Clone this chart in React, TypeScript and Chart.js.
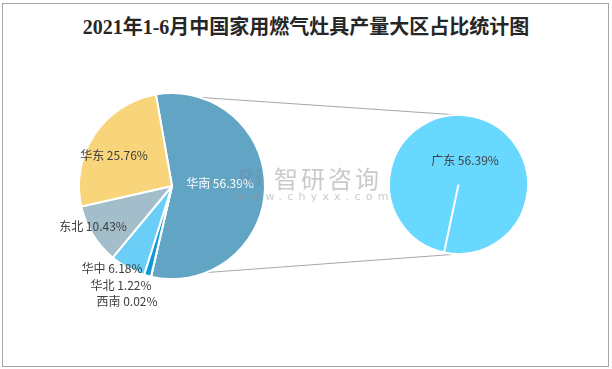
import React, { useEffect, useRef } from 'react';
import { Chart, registerables } from 'chart.js';

Chart.register(...registerables);

// ---- data ----
const titleText = '2021年1-6月中国家用燃气灶具产量大区占比统计图';
const regions = ['华南', '西南', '华北', '华中', '东北', '华东'];
const regionShares = [56.39, 0.02, 1.22, 6.18, 10.43, 25.76];
const regionColors = ['#62A4C3', '#2E75B6', '#0E9AD6', '#6BCEF6', '#A3BECA', '#F8D47B'];
const provinces = ['广东'];
const provinceShares = [56.39];
const provinceColors = ['#69D8FF'];

// label layout (offsets from pie centre, px)
const leftLabelOffsets = [
  [48, -3],
  [-45, 115],
  [-51, 99],
  [-60, 82],
  [-79, 40],
  [-58, -31],
];
const leftLabelColors = ['#ffffff', '#404040', '#404040', '#404040', '#404040', '#404040'];
const rightLabelOffsets = [[6.5, -24]];

const W = 612;
const H = 369;
const FONT = '"Noto Sans CJK SC", "Noto Sans", sans-serif';

function makeLabelPlugin(id: string, names: string[], values: number[], offsets: number[][], colors: string[]) {
  return {
    id,
    afterDatasetsDraw(chart: any) {
      const meta = chart.getDatasetMeta(0);
      const ctx = chart.ctx;
      ctx.save();
      ctx.font = '12px ' + FONT;
      ctx.textAlign = 'center';
      ctx.textBaseline = 'middle';
      meta.data.forEach((arc: any, i: number) => {
        const off = offsets[i];
        if (!off) return;
        ctx.fillStyle = colors[i];
        ctx.fillText(names[i] + ' ' + values[i].toFixed(2) + '%', arc.x + off[0], arc.y + off[1]);
      });
      ctx.restore();
    },
  };
}

export default function App() {
  const leftRef = useRef<HTMLCanvasElement>(null);
  const rightRef = useRef<HTMLCanvasElement>(null);

  useEffect(() => {
    const right = new Chart(rightRef.current!, {
      type: 'pie',
      data: {
        labels: provinces,
        datasets: [
          {
            data: provinceShares,
            backgroundColor: provinceColors,
            borderColor: '#ffffff',
            borderWidth: 2,
          },
        ],
      },
      options: {
        responsive: false,
        animation: false,
        rotation: 192,
        layout: { padding: { left: 388, right: 83, top: 114, bottom: 114 } },
        plugins: { legend: { display: false }, tooltip: { enabled: false }, title: { display: false } },
      },
      plugins: [makeLabelPlugin('rightLabels', provinces, provinceShares, rightLabelOffsets, ['#404040'])],
    });

    const connector = {
      id: 'connector',
      beforeDatasetsDraw(chart: any) {
        const arc: any = chart.getDatasetMeta(0).data[0];
        const rArc: any = right.getDatasetMeta(0).data[0];
        if (!arc || !rArc) return;
        const R = arc.outerRadius;
        const sx = arc.x + R * Math.cos(arc.startAngle);
        const sy = arc.y + R * Math.sin(arc.startAngle);
        const ex = arc.x + R * Math.cos(arc.endAngle);
        const ey = arc.y + R * Math.sin(arc.endAngle);
        const ctx = chart.ctx;
        ctx.save();
        ctx.strokeStyle = '#A6A6A6';
        ctx.lineWidth = 1;
        ctx.beginPath();
        ctx.moveTo(sx, sy);
        ctx.lineTo(rArc.x, rArc.y - rArc.outerRadius);
        ctx.moveTo(ex, ey);
        ctx.lineTo(rArc.x, rArc.y + rArc.outerRadius);
        ctx.stroke();
        ctx.restore();
      },
    };

    const left = new Chart(leftRef.current!, {
      type: 'pie',
      data: {
        labels: regions,
        datasets: [
          {
            data: regionShares,
            backgroundColor: regionColors,
            borderColor: '#ffffff',
            borderWidth: 2,
          },
        ],
      },
      options: {
        responsive: false,
        animation: false,
        rotation: -10,
        layout: { padding: { left: 78, right: 346, top: 92, bottom: 89 } },
        plugins: { legend: { display: false }, tooltip: { enabled: false }, title: { display: false } },
      },
      plugins: [connector, makeLabelPlugin('leftLabels', regions, regionShares, leftLabelOffsets, leftLabelColors)],
    });

    return () => {
      left.destroy();
      right.destroy();
    };
  }, []);

  return (
    <div style={{ position: 'fixed', left: 0, top: 0, width: W, height: H, background: '#ffffff', overflow: 'hidden' }}>
      <div
        style={{
          position: 'absolute',
          left: 2,
          top: 3,
          width: 605,
          height: 362,
          border: '1px solid #A6A6A6',
          boxSizing: 'content-box',
        }}
      />
      <div
        style={{
          position: 'absolute',
          left: 0,
          top: 15,
          width: W,
          height: 24,
          lineHeight: '24px',
          textAlign: 'center',
          fontFamily: '"Liberation Serif", "Noto Sans CJK SC", serif',
          fontSize: 20,
          fontWeight: 'bold',
          color: '#262626',
          whiteSpace: 'nowrap',
        }}
      >
        {titleText}
      </div>
      <canvas ref={leftRef} width={W} height={H} style={{ position: 'absolute', left: 0, top: 0, width: W, height: H }} />
      <canvas ref={rightRef} width={W} height={H} style={{ position: 'absolute', left: 0, top: 0, width: W, height: H }} />
      <div
        style={{
          position: 'absolute',
          left: 274,
          top: 165,
          fontFamily: FONT,
          fontSize: 24,
          letterSpacing: 3,
          color: 'rgba(150,150,150,0.5)',
          whiteSpace: 'nowrap',
          lineHeight: '26px',
          pointerEvents: 'none',
        }}
      >
        智研咨询
      </div>
      <div
        style={{
          position: 'absolute',
          left: 237,
          top: 190,
          fontFamily: '"DejaVu Sans", sans-serif',
          fontSize: 11,
          letterSpacing: 5.2,
          color: 'rgba(150,150,150,0.5)',
          whiteSpace: 'nowrap',
          lineHeight: '14px',
          pointerEvents: 'none',
        }}
      >
        www.chyxx.com
      </div>
      <div
        style={{
          position: 'absolute',
          left: 238,
          top: 167,
          width: 24,
          height: 22,
          fontFamily: '"DejaVu Sans", sans-serif',
          fontSize: 22,
          fontWeight: 'bold',
          lineHeight: '22px',
          color: 'rgba(110,140,170,0.35)',
          pointerEvents: 'none',
        }}
      >
        Ri
      </div>
    </div>
  );
}
